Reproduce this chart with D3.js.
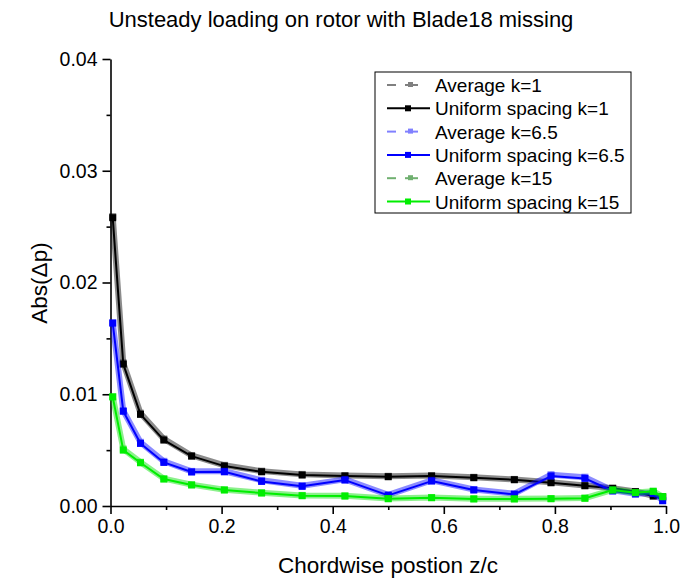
<!DOCTYPE html>
<html>
<head>
<meta charset="utf-8">
<script src="https://cdn.jsdelivr.net/npm/d3@7"></script>
<style>
  body { margin: 0; background: #fff; }
  svg { font-family: "Liberation Sans", Arial, sans-serif; }
</style>
</head>
<body>
<svg id="chart"></svg>
<script>
let width = 681
let height = 579

// chordwise positions z/c
let zc = [0.004, 0.023, 0.054, 0.096, 0.146, 0.205, 0.272, 0.345, 0.422, 0.5, 0.578, 0.654, 0.727, 0.793, 0.854, 0.904, 0.945, 0.977, 0.994]

let uniformK1 = [0.0258, 0.0127, 0.0082, 0.0059, 0.00446, 0.00357, 0.00306, 0.00277, 0.00268, 0.00262, 0.00268, 0.00253, 0.00235, 0.00208, 0.00181, 0.00158, 0.00128, 0.00089, 0.00080]
let averageK1 = [0.0259, 0.0128, 0.0083, 0.0060, 0.00452, 0.00364, 0.00312, 0.00283, 0.00273, 0.00266, 0.00272, 0.00257, 0.00238, 0.00212, 0.00184, 0.00160, 0.00130, 0.00091, 0.00082]

let uniformK65 = [0.01637, 0.00848, 0.0056, 0.0039, 0.00304, 0.00306, 0.0022, 0.00176, 0.00232, 0.00095, 0.00223, 0.00143, 0.00104, 0.00268, 0.00247, 0.00134, 0.00107, 0.00113, 0.00047]
let averageK65 = [0.01640, 0.00852, 0.0057, 0.0040, 0.00310, 0.00311, 0.0023, 0.00182, 0.00238, 0.00100, 0.00230, 0.00148, 0.00110, 0.00280, 0.00258, 0.00140, 0.00110, 0.00116, 0.00050]

let uniformK15 = [0.00976, 0.0050, 0.00387, 0.00241, 0.00188, 0.00143, 0.00116, 0.00092, 0.00089, 0.00065, 0.00074, 0.00063, 0.00063, 0.00065, 0.00069, 0.00143, 0.00119, 0.00131, 0.00083]
let averageK15 = [0.00980, 0.0051, 0.00392, 0.00245, 0.00191, 0.00146, 0.00119, 0.00095, 0.00091, 0.00067, 0.00076, 0.00065, 0.00065, 0.00067, 0.00071, 0.00145, 0.00121, 0.00133, 0.00085]

let seriesNames = ['Average k=1', 'Uniform spacing k=1', 'Average k=6.5', 'Uniform spacing k=6.5', 'Average k=15', 'Uniform spacing k=15']
let seriesData = [averageK1, uniformK1, averageK65, uniformK65, averageK15, uniformK15]
let seriesColors = ['#000000', '#000000', '#0000ff', '#0000ff', '#00dd00', '#00ee00']
let legendColors = ['#808080', '#000000', '#8080ff', '#0000ff', '#70b070', '#00ee00']
let isAverage = [true, false, true, false, true, false]

let xTicks = [0, 0.2, 0.4, 0.6, 0.8, 1.0]
let yTicks = [0, 0.01, 0.02, 0.03, 0.04]

let svg = d3.select('#chart').attr('width', width).attr('height', height)

let xScale = d3.scaleLinear().domain([0, 1]).range([110.5, 666])
let yScale = d3.scaleLinear().domain([0, 0.04]).range([506, 59])

// axes: major + minor ticks
let xMinor = d3.axisBottom(xScale).tickValues(d3.range(0.1, 1, 0.2)).tickSize(4).tickFormat('')
let xAxis = d3.axisBottom(xScale).tickValues(xTicks).tickSize(8).tickSizeOuter(0).tickPadding(5)
  .tickFormat(d3.format('.1f'))
let yMinor = d3.axisLeft(yScale).tickValues([0.005, 0.015, 0.025, 0.035]).tickSize(4).tickFormat('')
let yAxis = d3.axisLeft(yScale).tickValues(yTicks).tickSize(8).tickSizeOuter(0).tickPadding(5)
  .tickFormat(d3.format('.2f'))

let styleAxis = (g) => {
  g.selectAll('path').attr('stroke', '#000').attr('stroke-width', 1.6)
  g.selectAll('line').attr('stroke', '#000').attr('stroke-width', 1.6)
  g.selectAll('text').attr('fill', '#000').style('font-size', '19.5px')
}

svg.append('g').attr('transform', 'translate(0,506)').call(xMinor).call(styleAxis).select('.domain').remove()
svg.append('g').attr('transform', 'translate(0,506)').call(xAxis).call(styleAxis)
svg.append('g').attr('transform', 'translate(110.5,0)').call(yMinor).call(styleAxis).select('.domain').remove()
svg.append('g').attr('transform', 'translate(110.5,0)').call(yAxis).call(styleAxis)

// lines
let line = d3.line().x((d, i) => xScale(zc[i])).y(d => yScale(d))

seriesData.forEach((vals, s) => {
  let g = svg.append('g')
  g.append('path')
    .datum(vals)
    .attr('d', line)
    .attr('fill', 'none')
    .attr('stroke', seriesColors[s])
    .attr('stroke-width', isAverage[s] ? 6 : 2)
    .attr('stroke-opacity', isAverage[s] ? 0.45 : 1)
    .attr('stroke-linejoin', 'round')
  g.selectAll('rect')
    .data(vals)
    .enter()
    .append('rect')
    .attr('x', (d, i) => xScale(zc[i]) - 3.5)
    .attr('y', d => yScale(d) - 3.5)
    .attr('width', 7)
    .attr('height', 7)
    .attr('fill', seriesColors[s])
    .attr('fill-opacity', isAverage[s] ? 0.45 : 1)
})

// legend
let legend = svg.append('g').attr('transform', 'translate(375,72)')
legend.append('rect')
  .attr('width', 256).attr('height', 141)
  .attr('fill', '#fff').attr('stroke', '#000').attr('stroke-width', 1)

seriesNames.forEach((name, i) => {
  let y = 13 + i * 23.3
  let row = legend.append('g').attr('transform', 'translate(0,' + y + ')')
  if (isAverage[i]) {
    row.append('line').attr('x1', 12).attr('x2', 21).attr('y1', 0).attr('y2', 0)
      .attr('stroke', legendColors[i]).attr('stroke-width', 2)
    row.append('line').attr('x1', 30).attr('x2', 43).attr('y1', 0).attr('y2', 0)
      .attr('stroke', legendColors[i]).attr('stroke-width', 2)
    row.append('rect').attr('x', 33).attr('y', -3).attr('width', 5).attr('height', 5).attr('fill', legendColors[i])
  } else {
    row.append('line').attr('x1', 12).attr('x2', 55).attr('y1', 0).attr('y2', 0)
      .attr('stroke', legendColors[i]).attr('stroke-width', 2)
    row.append('rect').attr('x', 30).attr('y', -3).attr('width', 6).attr('height', 6).attr('fill', legendColors[i])
  }
  row.append('text').attr('x', 60).attr('y', 7)
    .style('font-size', '19px').attr('fill', '#000').text(name)
})

// titles
svg.append('text').attr('x', 341).attr('y', 27).attr('text-anchor', 'middle')
  .style('font-size', '22px').text('Unsteady loading on rotor with Blade18 missing')
svg.append('text').attr('x', 388).attr('y', 573).attr('text-anchor', 'middle')
  .style('font-size', '22.5px').text('Chordwise postion z/c')
svg.append('text').attr('transform', 'translate(47,283) rotate(-90)').attr('text-anchor', 'middle')
  .style('font-size', '22.5px').text('Abs(\u0394p)')
</script>
</body>
</html>
